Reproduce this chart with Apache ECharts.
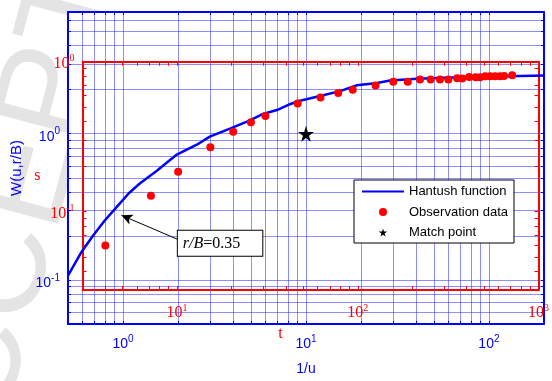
<!DOCTYPE html>
<html><head><meta charset="utf-8">
<script src="https://cdn.jsdelivr.net/npm/echarts@6/dist/echarts.min.js"></script>
<style>html,body{margin:0;padding:0;background:#fff}#c{width:552px;height:381px}</style>
</head><body><div id="c"></div>
<script>
// ---- data ----
const curveX = [0.5, 0.594, 0.683, 0.794, 0.924, 1.075, 1.234, 1.53, 1.967, 2.53, 2.98, 3.84, 4.94, 5.82, 6.94, 8.17, 8.93, 11.93, 15.35, 19.0, 24.5, 28.8, 40.5, 69.7, 200];
const curveY = [0.107, 0.156, 0.2, 0.255, 0.316, 0.392, 0.457, 0.558, 0.721, 0.841, 0.955, 1.085, 1.234, 1.366, 1.452, 1.592, 1.66, 1.811, 1.956, 2.145, 2.222, 2.316, 2.373, 2.436, 2.5];
const obsX = [0.8, 1.42, 2.0, 3.0, 4.0, 5.0, 6.0, 9.0, 12.0, 15.0, 18.0, 24.0, 30.0, 36.0, 42.0, 48.0, 54.0, 60.0, 67.0, 71.5, 78.0, 84.5, 89.5, 95.5, 101.5, 108, 115, 121, 134];
const obsY = [0.172, 0.376, 0.55, 0.81, 1.03, 1.20, 1.32, 1.61, 1.77, 1.90, 2.00, 2.14, 2.27, 2.27, 2.35, 2.35, 2.35, 2.35, 2.40, 2.39, 2.44, 2.43, 2.43, 2.47, 2.47, 2.47, 2.47, 2.48, 2.51];
const matchX = [10];
const matchY = [1];
const annotFrom = [1.98, 0.19];
const annotTo = [0.98, 0.277];

// tick labels
const blueXTickValues = [1, 10, 100];
const blueXTickExp = ['0', '1', '2'];
const blueYTickValues = [0.1, 1];
const blueYTickExp = ['-1', '0'];
const redXTickValues = [10, 100, 1000];
const redXTickExp = ['1', '2', '3'];
const redYTickValues = [0.1, 1];
const redYTickExp = ['-1', '0'];

const blueXRange = [0.5, 200];
const blueYRange = [0.05, 6.8];
const redXRange = [3, 1000];
const redYRange = [0.03, 1];

// ---- helpers ----
function logGrid(lo, hi) {
  const out = [];
  for (let e = -3; e <= 4; e++) for (let m = 1; m <= 9; m++) {
    const v = +(m * Math.pow(10, e)).toPrecision(6);
    if (v > lo * 1.0001 && v < hi * 0.9999) out.push(v);
  }
  return out;
}
function supFmt(vals, exps) {
  return function (v) {
    const i = vals.findIndex(t => Math.abs(Math.log10(v / t)) < 1e-6);
    return i < 0 ? '' : '{b|10}{s|' + exps[i] + '}';
  };
}
const BLUE = '#0000ff', RED = '#ff0000';
const sans = 'Liberation Sans', serif = 'Liberation Serif';
const blueRich = {
  b: { fontFamily: sans, fontSize: 14, color: BLUE, lineHeight: 20, verticalAlign: 'middle' },
  s: { fontFamily: sans, fontSize: 10, color: BLUE, verticalAlign: 'top' }
};
const redRich = {
  b: { fontFamily: serif, fontSize: 16, color: RED, lineHeight: 20, verticalAlign: 'middle' },
  s: { fontFamily: serif, fontSize: 10, color: RED, verticalAlign: 'top' }
};
const gridLine = { show: true, lineStyle: { color: 'rgba(50,50,255,0.55)', width: 1, type: 'solid' } };
const starPath = 'path://M50,0 L61,35 L98,35 L68,57 L79,91 L50,70 L21,91 L32,57 L2,35 L39,35 Z';

function blueAxisX(pos, main) {
  return {
    gridIndex: 0, type: 'log', position: pos, min: blueXRange[0], max: blueXRange[1],
    axisLine: { show: true, lineStyle: { color: BLUE, width: 2 } },
    axisTick: { show: true, inside: true, length: 3, customValues: logGrid(blueXRange[0], blueXRange[1]), lineStyle: { color: BLUE } },
    splitLine: main ? gridLine : { show: false },
    axisLabel: main ? { show: true, customValues: blueXTickValues, formatter: supFmt(blueXTickValues, blueXTickExp), margin: 10, rich: blueRich } : { show: false },
    name: main ? '1/u' : '', nameLocation: 'middle', nameGap: 38,
    nameTextStyle: { fontFamily: sans, fontSize: 14, color: BLUE }
  };
}
function blueAxisY(pos, main) {
  return {
    gridIndex: 0, type: 'log', position: pos, min: blueYRange[0], max: blueYRange[1],
    axisLine: { show: true, lineStyle: { color: BLUE, width: 2 } },
    axisTick: { show: true, inside: true, length: 3, customValues: logGrid(blueYRange[0], blueYRange[1]), lineStyle: { color: BLUE } },
    splitLine: main ? gridLine : { show: false },
    axisLabel: main ? { show: true, customValues: blueYTickValues, formatter: supFmt(blueYTickValues, blueYTickExp), margin: 8, padding: [6, 0, 0, 0], rich: blueRich } : { show: false },
    name: main ? 'W(u,r/B)' : '', nameLocation: 'middle', nameGap: 39,
    nameTextStyle: { fontFamily: sans, fontSize: 15, color: BLUE }
  };
}
function redAxisX(pos, main) {
  return {
    gridIndex: 1, type: 'log', position: pos, min: redXRange[0], max: redXRange[1],
    axisLine: { show: true, lineStyle: { color: RED, width: 2 } },
    axisTick: { show: true, inside: true, length: 4, customValues: logGrid(redXRange[0], redXRange[1] * 1.01), lineStyle: { color: RED } },
    splitLine: { show: false },
    axisLabel: main ? { show: true, customValues: redXTickValues, formatter: supFmt(redXTickValues, redXTickExp), margin: 13, rich: redRich } : { show: false },
    name: main ? 't' : '', nameLocation: 'middle', nameGap: 24,
    nameTextStyle: { fontFamily: serif, fontSize: 16, color: RED, padding: [0, 60, 0, 0] }
  };
}
function redAxisY(pos, main) {
  return {
    gridIndex: 1, type: 'log', position: pos, min: redYRange[0], max: redYRange[1],
    axisLine: { show: true, lineStyle: { color: RED, width: 2 } },
    axisTick: { show: true, inside: true, length: 4, customValues: logGrid(redYRange[0], redYRange[1] * 1.01), lineStyle: { color: RED } },
    splitLine: { show: false },
    axisLabel: main ? { show: true, customValues: redYTickValues, formatter: supFmt(redYTickValues, redYTickExp), margin: 8, padding: [4, 0, 0, 0], rich: redRich } : { show: false },
    name: main ? 's' : '', nameLocation: 'middle', nameGap: 42, nameRotate: 0,
    nameTextStyle: { fontFamily: serif, fontSize: 16, color: RED }
  };
}

const chart = echarts.init(document.getElementById('c'), null, { renderer: 'canvas' });
chart.setOption({
  animation: false,
  backgroundColor: '#fff',
  graphic: [{
    type: 'text', z: -100, x: -55, y: 500, rotation: 75 * Math.PI / 180,
    style: { text: 'ACCEPTED MANUSCRIPT', fontFamily: sans, fontSize: 135, fill: '#e4e4e4', textVerticalAlign: 'middle' }
  }],
  grid: [
    { left: 68, top: 12, width: 476, height: 320, show: true, backgroundColor: '#fff', borderWidth: 0 },
    { left: 82.5, top: 61.7, width: 461.2, height: 228.4, show: false }
  ],
  xAxis: [blueAxisX('bottom', true), blueAxisX('top', false), redAxisX('bottom', true), redAxisX('top', false)],
  yAxis: [blueAxisY('left', true), blueAxisY('right', false), redAxisY('left', true), redAxisY('right', false)],
  legend: {
    orient: 'vertical', left: 354, top: 180, itemWidth: 42, itemHeight: 8, itemGap: 5.5,
    padding: [4, 6, 3, 8], backgroundColor: '#fff', borderColor: '#000', borderWidth: 1, borderRadius: 0,
    textStyle: { fontFamily: sans, fontSize: 13, color: '#000', lineHeight: 15 },
    selectedMode: false,
    data: [
      { name: 'Hantush function', icon: 'path://M0,0H40V2H0Z' },
      { name: 'Observation data', icon: 'circle' },
      { name: 'Match point', icon: starPath }
    ]
  },
  series: [
    {
      name: 'Hantush function', type: 'line', xAxisIndex: 0, yAxisIndex: 0, z: 3,
      data: curveX.map((x, i) => [x, curveY[i]]), symbol: 'none', smooth: false,
      lineStyle: { color: BLUE, width: 2.5 }, itemStyle: { color: BLUE }
    },
    {
      name: 'Observation data', type: 'scatter', xAxisIndex: 0, yAxisIndex: 0, z: 4,
      data: obsX.map((x, i) => [x, obsY[i]]), symbol: 'circle', symbolSize: 8,
      itemStyle: { color: RED, opacity: 1 },
      markLine: {
        silent: true, symbol: ['none', 'arrow'], symbolSize: [8, 11],
        lineStyle: { color: '#000', width: 1, type: 'solid' }, label: { show: false },
        data: [[{ coord: annotFrom }, { coord: annotTo }]]
      },
      markPoint: {
        silent: true,
        data: [{
          coord: annotFrom, symbol: 'rect', symbolSize: 1, itemStyle: { color: 'rgba(0,0,0,0)' },
          label: {
            show: true, position: 'right', distance: 0, offset: [0, 4],
            formatter: '{i|r/B}{n|=0.35}', backgroundColor: '#fff', borderColor: '#000', borderWidth: 1,
            padding: [5, 22, 4, 5],
            rich: { i: { fontFamily: serif, fontStyle: 'italic', fontSize: 16, color: '#000' }, n: { fontFamily: serif, fontSize: 16, color: '#000' } }
          }
        }]
      }
    },
    {
      name: 'Match point', type: 'scatter', xAxisIndex: 0, yAxisIndex: 0, z: 5,
      data: matchX.map((x, i) => [x, matchY[i]]), symbol: starPath, symbolSize: 16,
      itemStyle: { color: '#000', opacity: 1 }
    }
  ]
});
</script></body></html>
